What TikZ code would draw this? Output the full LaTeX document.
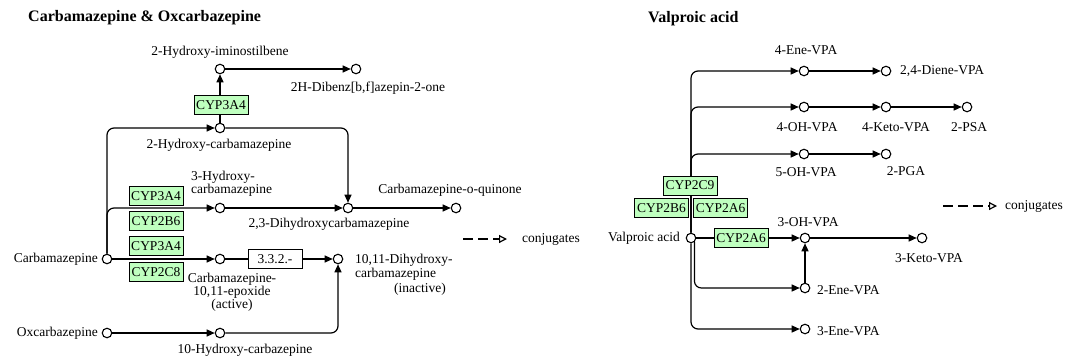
\documentclass[tikz,border=0pt]{standalone}
\usepackage{fontspec}
\setmainfont{Liberation Serif}
\usetikzlibrary{arrows.meta,backgrounds}
\definecolor{kgreen}{HTML}{BFFFBF}
\newcommand\labfont{\fontsize{13.5}{13.5}\selectfont}
\newcommand\labfontb{\fontsize{13.5}{11.5}\selectfont}
\newcommand\labfontc{\fontsize{13.5}{14}\selectfont}
\newcommand\titfont{\fontsize{16}{16}\selectfont\bfseries}
\begin{document}
\begin{tikzpicture}[x=1pt,y=-1pt,
  cpd/.style={circle,draw,fill=white,line width=1.1pt,minimum size=9.5pt,inner sep=0pt},
  enz/.style={draw,fill=kgreen,line width=0.9pt,minimum width=54pt,minimum height=19pt,inner sep=0pt,font=\labfont},
  ecbox/.style={enz,fill=white},
  lbl/.style={inner sep=0pt,font=\labfont},
  ttl/.style={inner sep=0pt,font=\titfont},
  ln/.style={line width=1.2pt},
  arr/.style={ln,-{Triangle[length=8pt,width=7pt]}},
  conj/.style={ln,dash pattern=on 10pt off 5pt,-{Triangle[open,length=8pt,width=8pt]}},
  rnd/.style={rounded corners=7pt}]
\useasboundingbox (0,0) rectangle (1075,362);

% ---------- Carbamazepine & Oxcarbazepine ----------
\node[ttl,anchor=west] (t1) at (28,18) {Carbamazepine \& Oxcarbazepine};
\node[cpd] (hims) at (220,69) {};
\node[lbl] (lhims) at (220,52) {2-Hydroxy-iminostilbene};
\node[cpd] (dib) at (356,69) {};
\node[lbl] (ldib) at (368,88) {2H-Dibenz[b,f]azepin-2-one};
\node[enz] (e1) at (221,105) {CYP3A4};
\node[cpd] (hcarb) at (220,128) {};
\node[lbl] (lhcarb) at (219,145) {2-Hydroxy-carbamazepine};
\node[cpd] (h3) at (220,208) {};
\node[lbl,font=\labfontb,align=left,anchor=west] (lh3) at (191,184) {3-Hydroxy-\\carbamazepine};
\node[enz] (e2) at (156,196) {CYP3A4};
\node[enz] (e3) at (156,221) {CYP2B6};
\node[cpd] (d23) at (348,208) {};
\node[lbl] (ld23) at (329,224) {2,3-Dihydroxycarbamazepine};
\node[cpd] (quin) at (456,208) {};
\node[lbl] (lquin) at (450,190) {Carbamazepine-o-quinone};
\coordinate (c1a) at (463,239);
\coordinate (c1b) at (507,239);
\node[lbl,anchor=west] (lc1) at (522,239) {conjugates};
\node[cpd] (carb) at (107,259) {};
\node[lbl,anchor=east] (lcarb) at (98,259) {Carbamazepine};
\node[enz] (e4) at (156,246) {CYP3A4};
\node[enz] (e5) at (156,272) {CYP2C8};
\node[cpd] (epox) at (220,259) {};
\node[lbl,font=\labfontb,align=center] (lepox) at (232,292) {Carbamazepine-\\10,11-epoxide\\(active)};
\node[ecbox] (ec1) at (275,259) {3.3.2.-};
\node[cpd] (d1011) at (338,259) {};
\node[lbl,font=\labfontc,align=left,anchor=west] (ld1011) at (355,267) {10,11-Dihydroxy-\\carbamazepine};
\node[lbl] (linact) at (420,289) {(inactive)};
\node[cpd] (oxc) at (107,333) {};
\node[lbl,anchor=east] (loxc) at (98,333) {Oxcarbazepine};
\node[cpd] (hox) at (220,333) {};
\node[lbl] (lhox) at (245,350) {10-Hydroxy-carbazepine};

% ---------- Valproic acid ----------
\node[ttl,anchor=west] (t2) at (648,19) {Valproic acid};
\node[cpd] (vpa) at (691,238) {};
\node[lbl,anchor=east] (lvpa) at (680,238) {Valproic acid};
\node[cpd] (ene4) at (804,71) {};
\node[lbl] (lene4) at (806,50) {4-Ene-VPA};
\node[cpd] (diene) at (886,71) {};
\node[lbl,anchor=west] (ldiene) at (900,71) {2,4-Diene-VPA};
\node[cpd] (oh4) at (804,107) {};
\node[lbl] (loh4) at (807,127) {4-OH-VPA};
\node[cpd] (keto4) at (886,107) {};
\node[lbl] (lketo4) at (896,127) {4-Keto-VPA};
\node[cpd] (psa) at (967,107) {};
\node[lbl] (lpsa) at (969,127) {2-PSA};
\node[cpd] (oh5) at (804,154) {};
\node[lbl] (loh5) at (806,172) {5-OH-VPA};
\node[cpd] (pga) at (886,154) {};
\node[lbl] (lpga) at (906,171) {2-PGA};
\node[enz] (v1) at (690,185.5) {CYP2C9};
\node[enz] (v2) at (661.5,208) {CYP2B6};
\node[enz] (v3) at (720.5,208) {CYP2A6};
\node[enz] (v4) at (741,238) {CYP2A6};
\node[cpd] (oh3) at (805,238) {};
\node[lbl] (loh3) at (808,222) {3-OH-VPA};
\node[cpd] (keto3) at (922,238) {};
\node[lbl] (lketo3) at (929,258) {3-Keto-VPA};
\node[cpd] (ene2) at (805,288) {};
\node[lbl,anchor=west] (lene2) at (817,290) {2-Ene-VPA};
\node[cpd] (ene3) at (805,329) {};
\node[lbl,anchor=west] (lene3) at (817,331) {3-Ene-VPA};
\coordinate (c2a) at (943,206);
\coordinate (c2b) at (997,206);
\node[lbl,anchor=west] (lc2) at (1005,206) {conjugates};

\begin{scope}[on background layer]
% left
\draw[arr,rnd] (carb) |- (hcarb);
\draw[arr,rnd] (carb) |- (h3);
\draw[arr] (carb) -- (epox);
\draw[arr] (hcarb) -- (hims);
\draw[arr] (hims) -- (dib);
\draw[arr,rnd] (hcarb) -| (d23);
\draw[arr] (h3) -- (d23);
\draw[arr] (d23) -- (quin);
\draw[ln] (epox) -- (ec1);
\draw[arr] (ec1) -- (d1011);
\draw[arr] (oxc) -- (hox);
\draw[arr,rnd] (hox) -| (d1011);
\draw[conj] (c1a) -- (c1b);
% right
\draw[arr,rnd] (vpa) |- (ene4);
\draw[arr,rnd] (vpa) |- (oh4);
\draw[arr,rnd] (vpa) |- (oh5);
\draw[arr] (ene4) -- (diene);
\draw[arr] (oh4) -- (keto4);
\draw[arr] (keto4) -- (psa);
\draw[arr] (oh5) -- (pga);
\draw[ln] (vpa) -- (v4);
\draw[arr] (v4) -- (oh3);
\draw[arr] (oh3) -- (keto3);
\draw[arr] (ene2) -- (oh3);
\draw[arr,rnd] (vpa.-50) |- (ene2);
\draw[arr,rnd] (vpa) |- (ene3);
\draw[conj] (c2a) -- (c2b);
\end{scope}
\end{tikzpicture}
\end{document}
